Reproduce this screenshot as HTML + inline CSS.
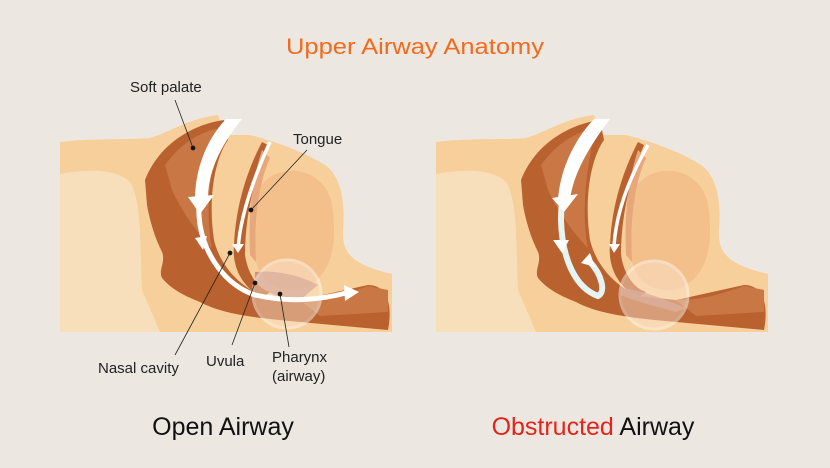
<!DOCTYPE html>
<html><head><meta charset="utf-8"><style>
html,body{margin:0;padding:0;background:#ece8e1;}
svg{display:block}
text{font-family:"Liberation Sans",sans-serif}
</style></head><body>
<svg width="830" height="468" viewBox="0 0 830 468" xmlns="http://www.w3.org/2000/svg">
<rect width="830" height="468" fill="#ece8e1"/>
<defs>
<g id="head">
  <path d="M60 142 C90 138 130 140 150 138 C170 132 190 118 218 115 L224 135 L250 135 C270 140 300 150 320 162 C338 170 346 195 343 230 C342 252 350 264 392 274 L392 332 L60 332 Z" fill="#f7cf9a"/>
  <path d="M60 174 C90 168 118 170 130 182 C142 200 140 250 142 290 L160 332 L60 332 Z" fill="#f8dfbc"/>
  <path d="M258 190 C275 160 325 165 332 205 C338 245 332 278 300 290 C275 292 255 280 255 250 Z" fill="#f3c08b"/>
  <path d="M145 180 C160 142 195 124 224 120 L228 140 C214 160 208 200 214 240 C220 265 238 285 262 296 L300 300 L368 285 C390 285 392 310 388 330 L300 322 C255 318 222 314 200 302 C185 296 172 290 162 278 C158 270 166 262 162 252 C155 238 150 222 147 205 Z" fill="#b9612f"/>
  <path d="M165 165 C182 142 200 132 220 128 C212 160 204 210 212 248 C198 234 182 212 172 190 Z" fill="#c97745"/>
  <path d="M268 145 C255 175 245 215 245 255 C248 275 258 288 270 292 L262 298 C240 285 232 265 234 245 C236 200 250 165 262 142 Z" fill="#b9612f"/>
  <path d="M262 150 C252 180 248 215 250 255 L256 262 C254 220 258 185 270 158 Z" fill="#e8a77a"/>
  <path d="M300 300 C330 300 350 292 368 286 L388 290 L388 312 L320 316 Z" fill="#c97745"/>
</g>
</defs>
<text x="415" y="54" text-anchor="middle" font-size="22" fill="#f26b1d" textLength="258" lengthAdjust="spacingAndGlyphs">Upper Airway Anatomy</text>

<!-- LEFT -->
<use href="#head"/>
<path d="M255 272 C275 270 300 275 318 285 L300 300 C280 300 262 290 255 282 Z" fill="#c08270" opacity="0.8"/>
<circle cx="287" cy="294" r="34" fill="#fbe6d2" opacity="0.45" stroke="#fff" stroke-width="3"/>
<path d="M236 122 C205 145 195 190 200 225 C205 255 225 285 255 295 C290 303 320 300 350 292" fill="none" stroke="#fff" stroke-width="5"/>
<path d="M226 119 L242 119 C217 150 208 175 208 200 L195 200 C195 170 206 140 226 119 Z" fill="#fff"/>
<path d="M188 197 L214 195 L200 214 Z" fill="#fff"/>
<path d="M195 238 L207 236 L203 250 Z" fill="#fff"/>
<path d="M344 285 L359 292 L345 301 Z" fill="#fff"/>
<path d="M270 142 C255 175 240 215 238 250" fill="none" stroke="#fff" stroke-width="3.5"/>
<path d="M232 244 L244 244 L238 253 Z" fill="#fff"/>
<g stroke="#222" stroke-width="0.8" fill="#111">
<line x1="175" y1="100" x2="193" y2="148"/><circle cx="193" cy="148" r="2"/>
<line x1="307" y1="150" x2="251" y2="210"/><circle cx="251" cy="210" r="2"/>
<line x1="230" y1="253" x2="175" y2="355"/><circle cx="230" cy="253" r="2"/>
<line x1="255" y1="283" x2="232" y2="345"/><circle cx="255" cy="283" r="2"/>
<line x1="280" y1="294" x2="289" y2="347"/><circle cx="280" cy="294" r="2"/>
</g>
<g font-size="15" fill="#222">
<text x="130" y="92">Soft palate</text>
<text x="293" y="144">Tongue</text>
<text x="98" y="373">Nasal cavity</text>
<text x="206" y="366">Uvula</text>
<text x="272" y="362">Pharynx</text>
<text x="272" y="381">(airway)</text>
</g>
<text x="223" y="435" text-anchor="middle" font-size="25" fill="#111">Open Airway</text>

<!-- RIGHT -->
<g transform="translate(376,0)">
<use href="#head"/>
<path d="M245 288 C265 290 290 300 310 308 L300 312 C275 305 255 300 245 295 Z" fill="#c08270" opacity="0.8"/>
<circle cx="278" cy="295" r="34" fill="#fbe6d2" opacity="0.45" stroke="#fff" stroke-width="3"/>
<path d="M225 122 C200 140 185 180 185 220 C186 260 200 288 222 296 C230 292 226 275 214 262" fill="none" stroke="#e6f5f2" stroke-width="6"/>
<path d="M218 119 L234 119 C212 148 197 175 194 200 L182 200 C184 170 198 140 218 119 Z" fill="#fff"/>
<path d="M176 198 L202 194 L188 212 Z" fill="#fff"/>
<path d="M177 240 L193 240 L186 253 Z" fill="#fff"/>
<path d="M205 263 L214 253 L219 267 Z" fill="#fff"/>
<path d="M272 145 C252 180 240 215 238 246" fill="none" stroke="#fff" stroke-width="3.5"/>
<path d="M233 244 L244 244 L238 253 Z" fill="#fff"/>
</g>
<text x="593" y="435" text-anchor="middle" font-size="25" fill="#111"><tspan fill="#e3241b">Obstructed</tspan> Airway</text>
</svg>
</body></html>
